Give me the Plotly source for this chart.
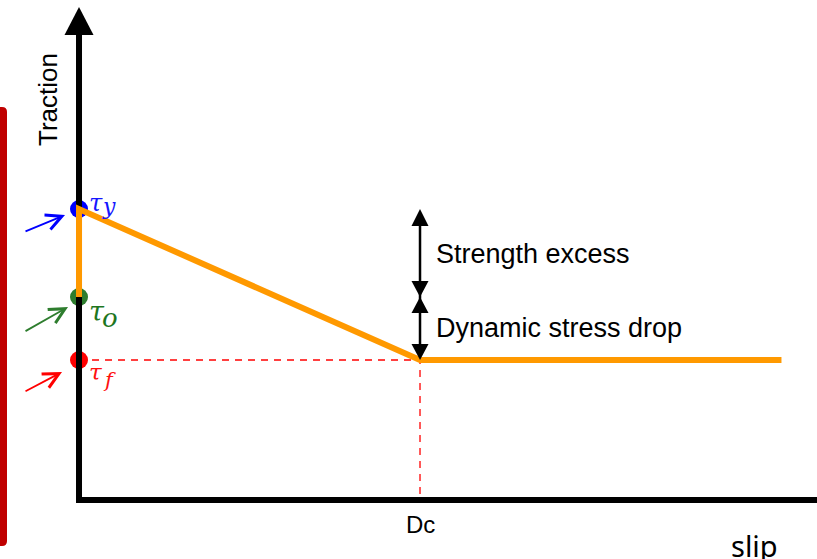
import plotly.graph_objects as go

# Linear slip-weakening friction law (arbitrary units)
tau_y = 2.91      # yield (static) strength
tau_o = 2.03      # initial shear stress
tau_f = 1.40      # dynamic (sliding) strength
d_c = 1.0         # critical slip distance
slip_end = 2.06   # extent of the drawn slip axis

law_slip = [0, 0, d_c, slip_end]
law_traction = [tau_o, tau_y, tau_f, tau_f]

stress_levels = [tau_y, tau_o, tau_f]
stress_names = ["y", "o", "f"]
stress_colors = ["#0000FF", "#2E7D2E", "#FF0000"]
label_colors = ["#1515FF", "#1E761E", "#FF1010"]

W, H = 817, 559
X0, X1 = -0.2317, 2.1642
Y0, Y1 = -0.59, 5.0
XPX = W / (X1 - X0)
YPX = H / (Y1 - Y0)


def dx(px):
    return px / XPX


def dy(px):
    return px / YPX


def tri(xc, ytip, half_w, height, up=True):
    """Filled triangle path (data coords) with its tip at (xc, ytip)."""
    yb = ytip - height if up else ytip + height
    return (f"M {xc - half_w},{yb} L {xc + half_w},{yb} L {xc},{ytip} Z")


fig = go.Figure()

# dashed guides to tau_f and D_c
fig.add_trace(go.Scatter(
    x=[0, d_c, d_c], y=[tau_f, tau_f, 0], mode="lines",
    line=dict(color="#FF0000", width=1.3, dash="7px,6px"), hoverinfo="skip"))

# stress level markers
fig.add_trace(go.Scatter(
    x=[0] * len(stress_levels), y=stress_levels, mode="markers",
    marker=dict(size=18, color=stress_colors, line=dict(width=0)),
    hoverinfo="skip"))

# axes
fig.add_trace(go.Scatter(
    x=[0, 0, X1 + 0.2], y=[4.66, 0, 0], mode="lines",
    line=dict(color="black", width=6), hoverinfo="skip"))

# friction law
fig.add_trace(go.Scatter(
    x=law_slip, y=law_traction, mode="lines",
    line=dict(color="#FF9900", width=6), hoverinfo="skip"))

# double-arrow shaft
fig.add_trace(go.Scatter(
    x=[d_c, d_c], y=[tau_y - dy(4), tau_f + dy(4)], mode="lines",
    line=dict(color="black", width=2.5), hoverinfo="skip"))

shapes = [
    # traction axis arrowhead
    dict(type="path", path=tri(0, 4.93, dx(14.5), dy(28), up=True),
         fillcolor="black", line=dict(width=0), xref="x", yref="y"),
    # strength excess arrowheads
    dict(type="path", path=tri(d_c, tau_y, dx(8.5), dy(17), up=True),
         fillcolor="black", line=dict(width=0), xref="x", yref="y"),
    dict(type="path", path=tri(d_c, tau_o, dx(8.5), dy(16), up=False),
         fillcolor="black", line=dict(width=0), xref="x", yref="y"),
    # dynamic stress drop arrowheads
    dict(type="path", path=tri(d_c, tau_o, dx(8.5), dy(16), up=True),
         fillcolor="black", line=dict(width=0), xref="x", yref="y"),
    dict(type="path", path=tri(d_c, tau_f, dx(8.5), dy(16), up=False),
         fillcolor="black", line=dict(width=0), xref="x", yref="y"),
]

# red side bar with rounded right corners
bx1 = 7 / W
r_x = 5 / W
yt = 1 - 107 / H
yb = 1 - 546 / H
r_y = 5 / H
shapes.append(dict(
    type="path", xref="paper", yref="paper",
    path=(f"M 0,{yt} L {bx1 - r_x},{yt} Q {bx1},{yt} {bx1},{yt - r_y} "
          f"L {bx1},{yb + r_y} Q {bx1},{yb} {bx1 - r_x},{yb} L 0,{yb} Z"),
    fillcolor="#C00000", line=dict(width=0)))

annotations = []

# pointer arrows to the stress levels
pointer = [
    # (tip x offset px, tip y offset px, tail ax, tail ay)
    (-14, 6, -41, 17),
    (-11, 10, -44, 25),
    (-17, 12, -38, 20),
]
for lvl, col, (tx, ty, ax, ay) in zip(stress_levels, stress_colors, pointer):
    annotations.append(dict(
        x=dx(tx), y=lvl - dy(ty), xref="x", yref="y", text="",
        showarrow=True, ax=ax, ay=ay, arrowhead=5, arrowsize=1.7,
        arrowwidth=1.8, arrowcolor=col))

# tau labels: (tau size, tau yshift, sub size, sub xshift, sub yshift)
label_fmt = [
    (24, 6, 22, 21, 3),
    (27, -14, 26, 21, -21),
    (23, -12, 21, 22, -20),
]
math_font = "DejaVu Serif"
for lvl, nm, col, (ts, ty, ss, sx, sy) in zip(stress_levels, stress_names,
                                               label_colors, label_fmt):
    annotations.append(dict(
        x=0, y=lvl, xref="x", yref="y", xanchor="left", yanchor="middle",
        xshift=8, yshift=ty, showarrow=False, text="<i>τ</i>",
        font=dict(family=math_font, size=ts, color=col)))
    annotations.append(dict(
        x=0, y=lvl, xref="x", yref="y", xanchor="left", yanchor="middle",
        xshift=sx, yshift=sy, showarrow=False, text=f"<i>{nm}</i>",
        font=dict(family=math_font, size=ss, color=col)))

sans = "Liberation Sans, Arial, sans-serif"
annotations += [
    dict(x=0, y=4.0, xref="x", yref="y", xshift=-31, showarrow=False,
         text="Traction", textangle=-90,
         font=dict(family=sans, size=26, color="black")),
    dict(x=d_c, y=(tau_y + tau_o) / 2, xref="x", yref="y", xanchor="left",
         xshift=14, yshift=-1, showarrow=False, text="Strength excess",
         font=dict(family=sans, size=27, color="black")),
    dict(x=d_c, y=(tau_o + tau_f) / 2, xref="x", yref="y", xanchor="left",
         xshift=14, yshift=1, showarrow=False, text="Dynamic stress drop",
         font=dict(family=sans, size=27, color="black")),
    dict(x=d_c, y=0, xref="x", yref="y", yshift=-24, showarrow=False,
         text="Dc", font=dict(family=sans, size=24, color="black")),
    dict(x=780 / W, y=1 - 545 / H, xref="paper", yref="paper",
         xanchor="right", yanchor="middle", showarrow=False, text="slip",
         font=dict(family="Noto Sans", size=29, color="black")),
]

fig.update_layout(
    width=W, height=H,
    margin=dict(l=0, r=0, t=0, b=0),
    paper_bgcolor="white", plot_bgcolor="white",
    showlegend=False, hovermode=False,
    xaxis=dict(range=[X0, X1], visible=False, fixedrange=True),
    yaxis=dict(range=[Y0, Y1], visible=False, fixedrange=True),
    shapes=shapes, annotations=annotations,
)

fig.write_html("out.html")
